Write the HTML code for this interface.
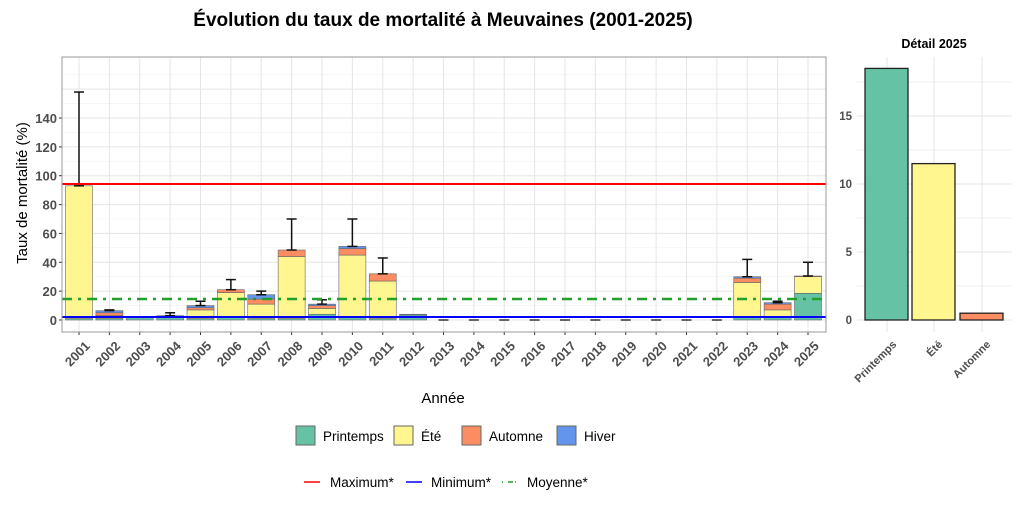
<!DOCTYPE html>
<html><head><meta charset="utf-8"><style>
body{margin:0;background:#fff;width:1024px;height:512px;overflow:hidden}
text{font-family:"Liberation Sans",sans-serif}
</style></head><body>
<svg id="s" width="1024" height="512" xmlns="http://www.w3.org/2000/svg"></svg>
<script>
const s=document.getElementById('s');let h='';
const C={P:'#66c2a5',E:'#fff68f',A:'#fc8d62',H:'#6495ed'};
h+='<text x="443" y="26" font-size="19" font-weight="bold" text-anchor="middle">Évolution du taux de mortalité à Meuvaines (2001-2025)</text>';
const L=62,R=826,T=57,B=332,y0=320,k=202/140;
const Y=v=>y0-v*k;
for(let v=-10;v<=170;v+=10){const yy=Y(v);if(yy<T||yy>B)continue;h+=`<line x1="${L}" x2="${R}" y1="${yy}" y2="${yy}" stroke="${v%20?'#f2f2f2':'#e5e5e5'}" stroke-width="${v%20?0.6:1}"/>`;}
const X=i=>79+i*30.375;
for(let i=0;i<25;i++)h+=`<line x1="${X(i)}" x2="${X(i)}" y1="${T}" y2="${B}" stroke="#e5e5e5"/>`;
for(let v=0;v<=140;v+=20){h+=`<text x="${L-5}" y="${Y(v)+5}" font-size="13" fill="#4d4d4d" text-anchor="end" font-weight="bold">${v}</text><line x1="${L-3}" x2="${L}" y1="${Y(v)}" y2="${Y(v)}" stroke="#333"/>`;}
const D={2001:[[1,92,0,0],158],2002:[[1,2,2,1.5],7],2003:[[2,0,0,0],0],2004:[[2,0,0,1],5],2005:[[1,6,1.5,1.5],13],2006:[[2,17,2,0],28],2007:[[1,10,3.5,3],20],2008:[[1,43,4.5,0],70],2009:[[4,4,2,1],14],2010:[[2,43,4.5,1.5],70],2011:[[1,26,5,0],43],2012:[[3.5,0,0,0.5],0],2023:[[2,24,3,1],42],2024:[[2,5,4,1],13],2025:[[18.5,11.5,0.5,0],40]};
for(let i=0;i<25;i++){const yr=2001+i,d=D[yr],x=X(i)-13.5;
 if(!d){h+=`<line x1="${X(i)-5}" x2="${X(i)+5}" y1="${y0}" y2="${y0}" stroke="#333" stroke-width="1.5"/>`;}
 else{let c=0;['P','E','A','H'].forEach((q,j)=>{const v=d[0][j];if(v>0){h+=`<rect x="${x}" y="${Y(c+v)}" width="27" height="${v*k}" fill="${C[q]}" stroke="#666" stroke-width="0.6"/>`;c+=v;}});
 if(d[1]){h+=`<line x1="${X(i)}" x2="${X(i)}" y1="${Y(c)}" y2="${Y(d[1])}" stroke="#111" stroke-width="1.5"/><line x1="${X(i)-5}" x2="${X(i)+5}" y1="${Y(d[1])}" y2="${Y(d[1])}" stroke="#111" stroke-width="1.5"/><line x1="${X(i)-5}" x2="${X(i)+5}" y1="${Y(c)}" y2="${Y(c)}" stroke="#111" stroke-width="1.5"/>`;}}
 h+=`<text transform="translate(${X(i)+5},${B+8}) rotate(-45)" font-size="13" font-weight="bold" fill="#4d4d4d" text-anchor="end" dominant-baseline="hanging">${yr}</text>`;
 h+=`<line x1="${X(i)}" x2="${X(i)}" y1="${B}" y2="${B+3}" stroke="#333"/>`;}
h+=`<line x1="${L}" x2="${R}" y1="184" y2="184" stroke="#f00" stroke-width="2"/>`;
h+=`<line x1="${L}" x2="${R}" y1="317" y2="317" stroke="#00f" stroke-width="2"/>`;
h+=`<line x1="${L}" x2="${R}" y1="299" y2="299" stroke="#22a02a" stroke-width="2.5" stroke-dasharray="10,6,3,6"/>`;
h+=`<rect x="${L}" y="${T}" width="${R-L}" height="${B-T}" fill="none" stroke="#999"/>`;
h+=`<text transform="translate(27,193) rotate(-90)" font-size="15" text-anchor="middle">Taux de mortalité (%)</text>`;
h+=`<text x="443" y="403" font-size="15" text-anchor="middle">Année</text>`;
const lg=[['P','Printemps',296],['E','Été',394],['A','Automne',462],['H','Hiver',557]];
lg.forEach(l=>{h+=`<rect x="${l[2]}" y="426" width="19" height="19" fill="${C[l[0]]}" stroke="#666"/><text x="${l[2]+27}" y="441" font-size="13.5">${l[1]}</text>`});
h+=`<line x1="304" x2="320" y1="482" y2="482" stroke="#f00" stroke-width="1.5"/><text x="330" y="487" font-size="13.5">Maximum*</text>`;
h+=`<line x1="406" x2="422" y1="482" y2="482" stroke="#00f" stroke-width="1.5"/><text x="431" y="487" font-size="13.5">Minimum*</text>`;
h+=`<line x1="502" x2="518" y1="482" y2="482" stroke="#22a02a" stroke-width="1.5" stroke-dasharray="1,5,5,2"/><text x="527" y="487" font-size="13.5">Moyenne*</text>`;
const RL=857,RR=1012,ry0=320,rk=204/15;
h+=`<text x="934" y="48" font-size="12.5" font-weight="bold" text-anchor="middle">Détail 2025</text>`;
for(let v=0;v<=17.5;v+=2.5){h+=`<line x1="${RL}" x2="${RR}" y1="${ry0-v*rk}" y2="${ry0-v*rk}" stroke="${v%5?'#f2f2f2':'#e5e5e5'}"/>`;}
[887,934,982].forEach(x=>h+=`<line x1="${x}" x2="${x}" y1="${T}" y2="${B}" stroke="#e5e5e5"/>`);
for(let v=0;v<=15;v+=5)h+=`<text x="${RL-5}" y="${ry0-v*rk+4}" font-size="11.5" font-weight="bold" fill="#4d4d4d" text-anchor="end">${v}</text>`;
[[865,18.5,'P'],[912,11.5,'E'],[960,0.5,'A']].forEach(b=>h+=`<rect x="${b[0]}" y="${ry0-b[1]*rk}" width="43" height="${b[1]*rk}" fill="${C[b[2]]}" stroke="#222" stroke-width="1.3"/>`);
[['Printemps',892],['Été',938],['Automne',986]].forEach(t=>h+=`<text transform="translate(${t[1]},${B+8}) rotate(-45)" font-size="11" font-weight="bold" fill="#4d4d4d" text-anchor="end" dominant-baseline="hanging">${t[0]}</text>`);
s.innerHTML=h;
</script>
</body></html>
